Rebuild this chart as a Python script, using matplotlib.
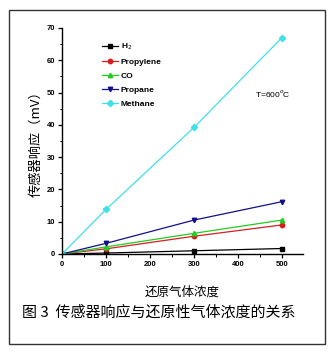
import matplotlib
matplotlib.use("Agg")
import matplotlib.pyplot as plt
from matplotlib.patches import Rectangle
from matplotlib.ticker import MultipleLocator

plt.rcParams['font.family'] = ['Liberation Sans', 'Noto Sans CJK SC', 'DejaVu Sans']

conc = [0, 100, 300, 500]
h2 = [0, 0.3, 1.0, 1.7]
propylene = [0, 1.6, 5.5, 9.0]
co = [0, 2.2, 6.4, 10.5]
propane = [0, 3.3, 10.5, 16.2]
methane = [0, 13.8, 39.2, 67.0]

series = [
    ("H$_2$", h2, "black", "s"),
    ("Propylene", propylene, "#d42020", "o"),
    ("CO", co, "#22cc22", "^"),
    ("Propane", propane, "#10108c", "v"),
    ("Methane", methane, "#40e0e8", "D"),
]

fig = plt.figure(figsize=(3.36, 3.52), dpi=100)
fig.patches.append(Rectangle((9 / 336, 1 - 344 / 352), 316 / 336, 334 / 352,
                             transform=fig.transFigure, fill=False,
                             edgecolor="#333333", linewidth=1.0))

ax = fig.add_axes([62 / 336, 1 - 254 / 352, 241 / 336, 226 / 352])
for name, vals, col, mk in series:
    ax.plot(conc, vals, color=col, marker=mk, markersize=3.2, linewidth=0.9,
            label=name)

ax.set_xlim(0, 548)
ax.set_ylim(0, 70)
ax.xaxis.set_major_locator(MultipleLocator(100))
ax.xaxis.set_minor_locator(MultipleLocator(50))
ax.yaxis.set_major_locator(MultipleLocator(10))
ax.yaxis.set_minor_locator(MultipleLocator(5))
ax.spines['top'].set_visible(False)
ax.spines['right'].set_visible(False)
for s in ('left', 'bottom'):
    ax.spines[s].set_linewidth(1.0)
ax.tick_params(which='major', direction='out', length=3, width=0.9,
               labelsize=5.5, pad=2)
ax.tick_params(which='minor', direction='out', length=1.8, width=0.7)
for lbl in ax.get_xticklabels() + ax.get_yticklabels():
    lbl.set_fontweight('bold')

ax.set_ylabel("传感器响应（mV）", family=['Noto Sans CJK SC'], fontsize=9.5,
              labelpad=3)
ax.set_xlabel("还原气体浓度", family=['Noto Sans CJK SC'], fontsize=9,
              labelpad=13)

leg = ax.legend(loc='upper left', bbox_to_anchor=(0.14, 0.965), frameon=False,
                prop={'size': 6, 'weight': 'bold'}, handlelength=2.0,
                handletextpad=0.3, labelspacing=0.72, borderpad=0.2)

ax.text(0.80, 0.708, "T=600$^o$C", transform=ax.transAxes, fontsize=6,
        ha='left', va='center')

fig.text(22 / 336, 1 - 312 / 352, "图 3  传感器响应与还原性气体浓度的关系",
         family=['Noto Sans CJK SC'], fontsize=10.8, ha='left', va='center')

fig.savefig("out.png", dpi=100)
